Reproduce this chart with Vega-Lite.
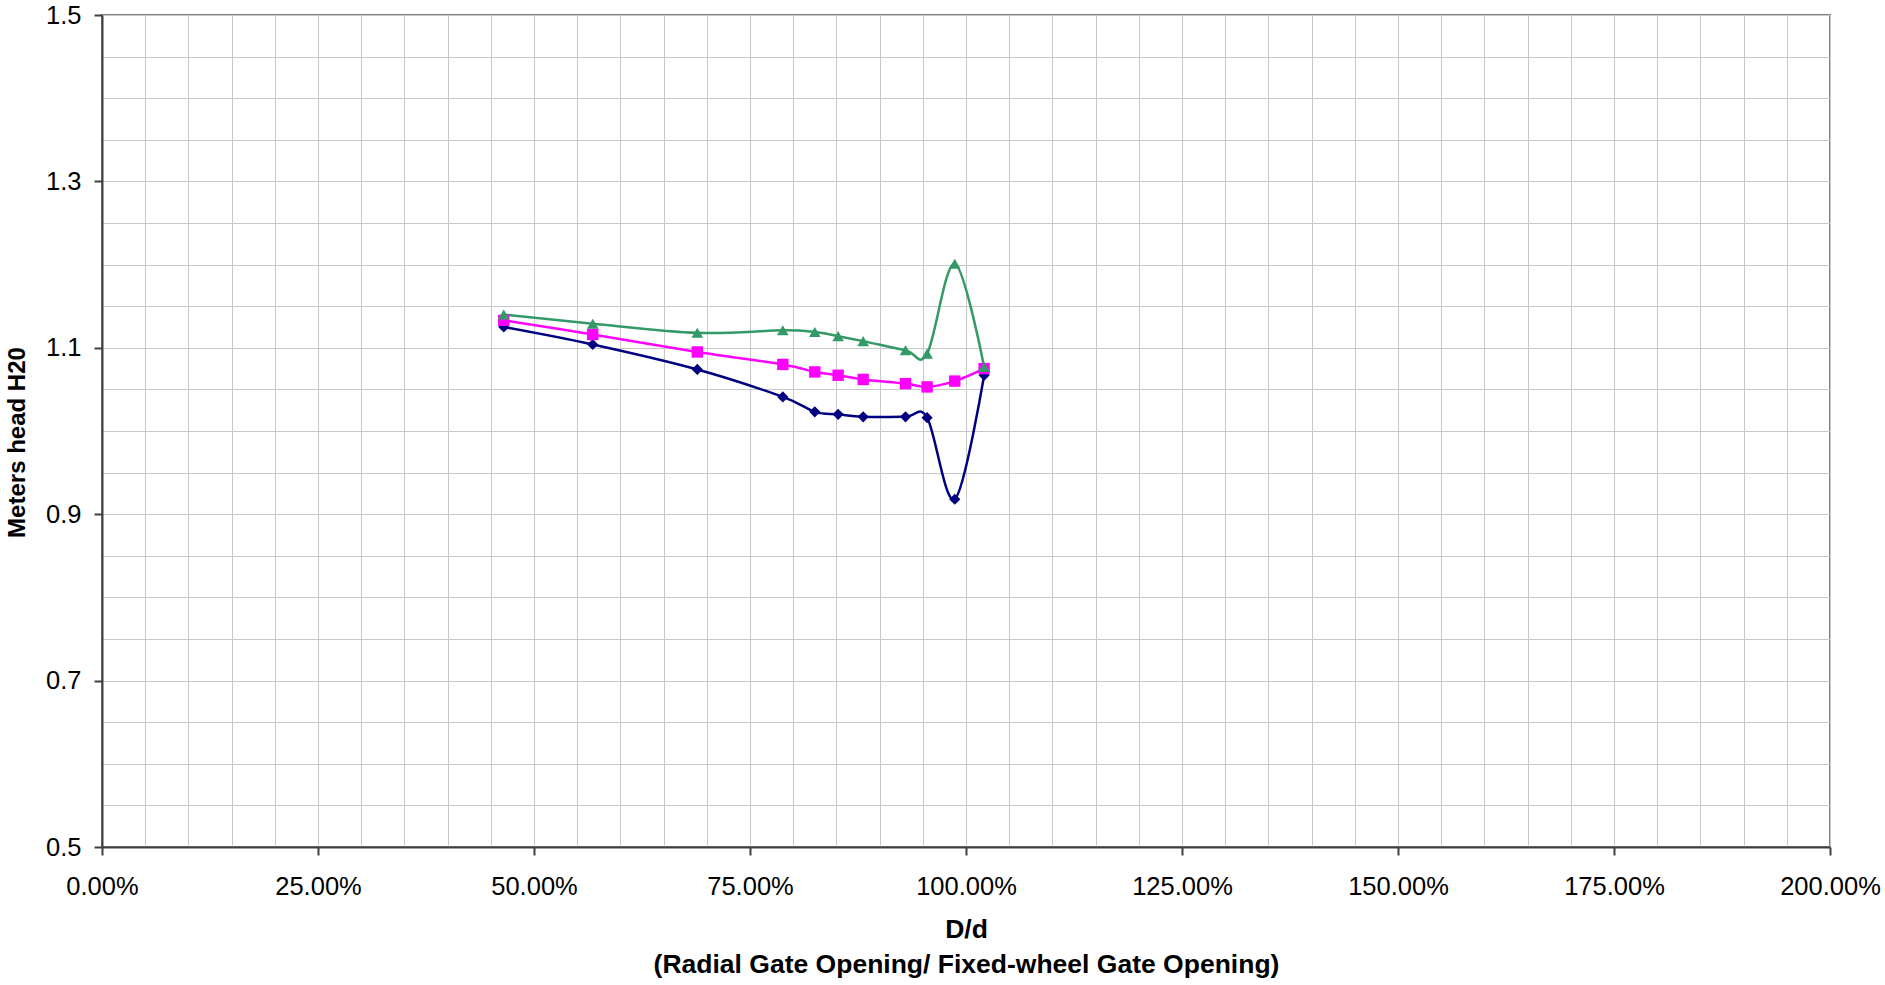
{
  "$schema": "https://vega.github.io/schema/vega-lite/v6.json",
  "width": 1728,
  "height": 832,
  "autosize": {"type": "none"},
  "padding": {"left": 102, "top": 15, "right": 55, "bottom": 138},
  "background": "white",
  "config": {
    "font": "Liberation Sans",
    "view": {"stroke": "#808080", "strokeWidth": 2}
  },
  "data": {
    "values": [
      {"s": "Series1", "x": 0.465, "y": 1.125},
      {"s": "Series1", "x": 0.568, "y": 1.104},
      {"s": "Series1", "x": 0.689, "y": 1.074},
      {"s": "Series1", "x": 0.788, "y": 1.041},
      {"s": "Series1", "x": 0.825, "y": 1.023},
      {"s": "Series1", "x": 0.852, "y": 1.020},
      {"s": "Series1", "x": 0.881, "y": 1.017},
      {"s": "Series1", "x": 0.930, "y": 1.017},
      {"s": "Series1", "x": 0.955, "y": 1.016},
      {"s": "Series1", "x": 0.987, "y": 0.918},
      {"s": "Series1", "x": 1.021, "y": 1.067},
      {"s": "Series2", "x": 0.465, "y": 1.133},
      {"s": "Series2", "x": 0.568, "y": 1.116},
      {"s": "Series2", "x": 0.689, "y": 1.095},
      {"s": "Series2", "x": 0.788, "y": 1.080},
      {"s": "Series2", "x": 0.825, "y": 1.071},
      {"s": "Series2", "x": 0.852, "y": 1.067},
      {"s": "Series2", "x": 0.881, "y": 1.062},
      {"s": "Series2", "x": 0.930, "y": 1.057},
      {"s": "Series2", "x": 0.955, "y": 1.053},
      {"s": "Series2", "x": 0.987, "y": 1.060},
      {"s": "Series2", "x": 1.021, "y": 1.075},
      {"s": "Series3", "x": 0.465, "y": 1.140},
      {"s": "Series3", "x": 0.568, "y": 1.129},
      {"s": "Series3", "x": 0.689, "y": 1.118},
      {"s": "Series3", "x": 0.788, "y": 1.121},
      {"s": "Series3", "x": 0.825, "y": 1.119},
      {"s": "Series3", "x": 0.852, "y": 1.114},
      {"s": "Series3", "x": 0.881, "y": 1.108},
      {"s": "Series3", "x": 0.930, "y": 1.097},
      {"s": "Series3", "x": 0.955, "y": 1.093},
      {"s": "Series3", "x": 0.987, "y": 1.201},
      {"s": "Series3", "x": 1.021, "y": 1.077}
    ]
  },
  "encoding": {
    "x": {
      "field": "x",
      "type": "quantitative",
      "scale": {"domain": [0, 2], "nice": false, "zero": false},
      "axis": {
        "values": [0, 0.05, 0.1, 0.15, 0.2, 0.25, 0.3, 0.35, 0.4, 0.45, 0.5, 0.55, 0.6, 0.65, 0.7, 0.75, 0.8, 0.85, 0.9, 0.95, 1, 1.05, 1.1, 1.15, 1.2, 1.25, 1.3, 1.35, 1.4, 1.45, 1.5, 1.55, 1.6, 1.65, 1.7, 1.75, 1.8, 1.85, 1.9, 1.95, 2],
        "labelExpr": "abs(datum.value*4 - round(datum.value*4)) < 0.001 ? format(datum.value, '.2%') : ''",
        "labelOverlap": false,
        "labelFlush": false,
        "labelBound": false,
        "labelFontSize": 25.5,
        "labelColor": "black",
        "labelPadding": 19,
        "tickSize": 8,
        "tickWidth": 2,
        "tickColor": {"condition": {"test": "abs(datum.value*4 - round(datum.value*4)) < 0.001", "value": "#404040"}, "value": "transparent"},
        "grid": true,
        "gridColor": "#c8c8c8",
        "gridWidth": 1,
        "domainColor": "#404040",
        "domainWidth": 2,
        "title": ["D/d", "(Radial Gate Opening/ Fixed-wheel Gate Opening)"],
        "titleFontSize": 26.5,
        "titleFontWeight": "bold",
        "titleColor": "black",
        "titlePadding": 17,
        "titleLineHeight": 35
      }
    },
    "y": {
      "field": "y",
      "type": "quantitative",
      "scale": {"domain": [0.5, 1.5], "nice": false, "zero": false},
      "axis": {
        "values": [0.5, 0.55, 0.6, 0.65, 0.7, 0.75, 0.8, 0.85, 0.9, 0.95, 1, 1.05, 1.1, 1.15, 1.2, 1.25, 1.3, 1.35, 1.4, 1.45, 1.5],
        "labelExpr": "abs((datum.value-0.5)*5 - round((datum.value-0.5)*5)) < 0.001 ? format(datum.value, '.1f') : ''",
        "labelOverlap": false,
        "labelFlush": false,
        "labelBound": false,
        "labelFontSize": 25.5,
        "labelColor": "black",
        "labelPadding": 13,
        "tickSize": 8,
        "tickWidth": 2,
        "tickColor": {"condition": {"test": "abs((datum.value-0.5)*5 - round((datum.value-0.5)*5)) < 0.001", "value": "#404040"}, "value": "transparent"},
        "grid": true,
        "gridColor": "#c8c8c8",
        "gridWidth": 1,
        "domainColor": "#404040",
        "domainWidth": 2,
        "title": "Meters head H20",
        "titleFontSize": 24,
        "titleFontWeight": "bold",
        "titleColor": "black",
        "titlePadding": 16,
        "titleY": 427
      }
    },
    "color": {
      "field": "s",
      "type": "nominal",
      "scale": {"domain": ["Series1", "Series2", "Series3"], "range": ["#000080", "#FF00FF", "#339966"]},
      "legend": null
    }
  },
  "layer": [
    {"mark": {"type": "line", "interpolate": "cardinal", "strokeWidth": 2.5}},
    {
      "mark": {"type": "point", "filled": true, "opacity": 1},
      "encoding": {
        "shape": {
          "field": "s",
          "type": "nominal",
          "scale": {"domain": ["Series1", "Series2", "Series3"], "range": ["diamond", "square", "triangle-up"]},
          "legend": null
        },
        "size": {
          "field": "s",
          "type": "nominal",
          "scale": {"domain": ["Series1", "Series2", "Series3"], "range": [125, 135, 170]},
          "legend": null
        }
      }
    }
  ]
}
